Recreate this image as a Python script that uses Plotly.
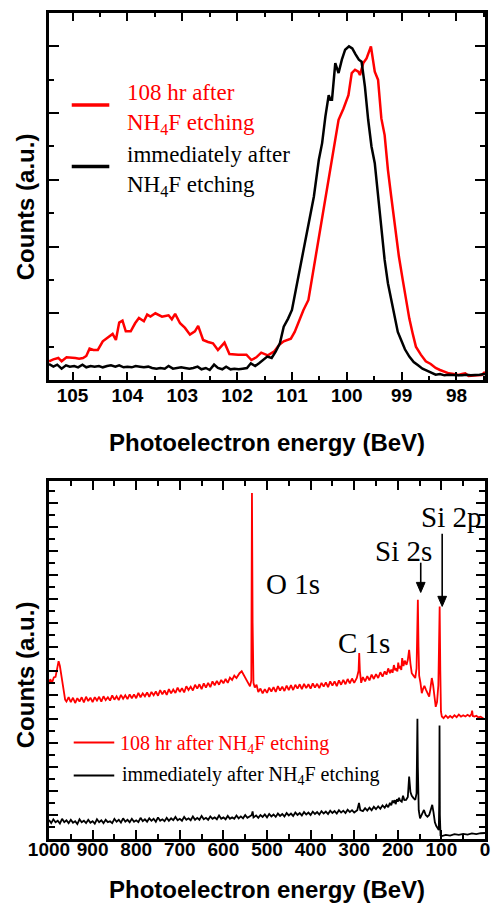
import plotly.graph_objects as go

# ---------------- Top panel: Si 2p high-resolution spectra ----------------
hr_energy_black = [105.43, 105.35, 105.28, 105.20, 105.12, 105.05, 104.97, 104.90, 104.82, 104.75,
                   104.67, 104.60, 104.52, 104.45, 104.37, 104.30, 104.22, 104.15, 104.07, 104.00,
                   103.92, 103.85, 103.77, 103.70, 103.62, 103.55, 103.47, 103.40, 103.32, 103.25,
                   103.17, 103.10, 103.02, 102.95, 102.87, 102.80, 102.72, 102.65, 102.57, 102.50,
                   102.42, 102.35, 102.27, 102.20, 102.12, 102.05, 101.97, 101.90, 101.82, 101.75,
                   101.67, 101.60, 101.52, 101.45, 101.37, 101.30, 101.22, 101.15, 101.07, 101.00,
                   100.93, 100.86, 100.80, 100.73, 100.66, 100.60, 100.51, 100.45, 100.39, 100.33,
                   100.30, 100.27, 100.21, 100.15, 100.09, 100.03, 99.96, 99.90, 99.84, 99.78,
                   99.73, 99.67, 99.61, 99.55, 99.49, 99.43, 99.37, 99.31, 99.25, 99.19,
                   99.13, 99.07, 99.00, 98.94, 98.86, 98.78, 98.70, 98.62, 98.54, 98.46,
                   98.38, 98.30, 98.22, 98.14, 98.06, 97.98, 97.90, 97.82, 97.74, 97.66,
                   97.58, 97.48]
hr_counts_black = [0.24, 0.20, 0.23, 0.17, 0.22, 0.20, 0.21, 0.19, 0.23, 0.19,
                   0.21, 0.20, 0.21, 0.19, 0.21, 0.22, 0.20, 0.22, 0.19, 0.20,
                   0.19, 0.21, 0.20, 0.19, 0.20, 0.18, 0.17, 0.18, 0.17, 0.21,
                   0.17, 0.18, 0.19, 0.18, 0.17, 0.18, 0.20, 0.16, 0.18, 0.15,
                   0.23, 0.18, 0.16, 0.20, 0.16, 0.17, 0.16, 0.17, 0.18, 0.25,
                   0.21, 0.25, 0.30, 0.35, 0.33, 0.42, 0.55, 0.80, 0.92, 1.05,
                   1.35, 1.65, 1.95, 2.25, 2.55, 2.75, 3.30, 3.55, 3.95, 4.27,
                   4.20, 4.20, 4.75, 4.60, 4.80, 4.95, 5.00, 4.97, 4.88, 4.80,
                   4.77, 4.40, 3.90, 3.50, 3.25, 2.75, 2.30, 1.80, 1.45, 1.20,
                   0.92, 0.72, 0.58, 0.46, 0.35, 0.27, 0.22, 0.17, 0.14, 0.11,
                   0.08, 0.09, 0.07, 0.08, 0.07, 0.07, 0.07, 0.08, 0.07, 0.07,
                   0.08, 0.09]

hr_energy_red = [105.43, 105.35, 105.26, 105.20, 105.11, 105.03, 104.95, 104.88, 104.81, 104.75,
                 104.69, 104.62, 104.54, 104.45, 104.36, 104.27, 104.21, 104.15, 104.09, 104.03,
                 103.94, 103.86, 103.79, 103.70, 103.64, 103.58, 103.49, 103.43, 103.37, 103.31,
                 103.25, 103.19, 103.13, 103.04, 102.95, 102.86, 102.77, 102.71, 102.62, 102.53,
                 102.44, 102.35, 102.29, 102.23, 102.14, 102.06, 101.98, 101.90, 101.83, 101.74,
                 101.65, 101.56, 101.49, 101.44, 101.32, 101.23, 101.15, 101.08, 101.02, 100.95,
                 100.91, 100.85, 100.79, 100.70, 100.62, 100.55, 100.47, 100.39, 100.33, 100.24,
                 100.15, 100.06, 99.97, 99.91, 99.85, 99.79, 99.76, 99.70, 99.64, 99.56,
                 99.49, 99.43, 99.37, 99.31, 99.25, 99.19, 99.12, 99.05, 98.98, 98.92,
                 98.86, 98.80, 98.74, 98.65, 98.56, 98.47, 98.38, 98.30, 98.22, 98.14,
                 98.05, 97.96, 97.90, 97.84, 97.78, 97.70, 97.62, 97.54, 97.48]
hr_counts_red = [0.28, 0.31, 0.33, 0.28, 0.34, 0.34, 0.33, 0.32, 0.33, 0.36,
                 0.47, 0.45, 0.45, 0.58, 0.64, 0.69, 0.60, 0.86, 0.89, 0.73,
                 0.73, 0.85, 0.93, 0.88, 0.98, 0.95, 1.00, 0.98, 0.95, 0.96,
                 0.97, 0.91, 0.99, 0.85, 0.78, 0.68, 0.73, 0.81, 0.60, 0.57,
                 0.55, 0.45, 0.50, 0.56, 0.39, 0.38, 0.38, 0.38, 0.38, 0.30,
                 0.34, 0.41, 0.38, 0.37, 0.43, 0.53, 0.58, 0.60, 0.62, 0.72,
                 0.80, 0.93, 1.05, 1.20, 1.60, 1.95, 2.30, 2.70, 3.05, 3.45,
                 3.90, 4.07, 4.27, 4.60, 4.65, 4.62, 4.57, 4.75, 4.82, 5.00,
                 4.62, 4.50, 3.92, 3.67, 3.15, 2.75, 2.30, 1.85, 1.50, 1.20,
                 0.92, 0.70, 0.50, 0.38, 0.28, 0.24, 0.18, 0.15, 0.12, 0.10,
                 0.09, 0.075, 0.09, 0.10, 0.06, 0.07, 0.07, 0.075, 0.12]

# ---------------- Bottom panel: survey spectra (energy, counts) ----------------
survey_108hr = [
    (1000, 6.45), (997, 6.65), (993, 6.5), (989, 6.72), (985, 6.75), (981, 7.1), (978, 7.4),
    (975, 7.2), (972, 6.85), (969, 6.4), (966, 6.0), (963, 5.8), (960, 5.72), (955, 5.9),
    (950, 5.7), (945, 5.88), (940, 5.66), (935, 5.86), (930, 5.72), (925, 5.9), (920, 5.68),
    (915, 5.92), (910, 5.74), (905, 5.88), (900, 5.7), (895, 5.9), (890, 5.76), (885, 5.92),
    (880, 5.72), (875, 5.94), (870, 5.78), (865, 5.9), (860, 5.76), (855, 5.98), (850, 5.8),
    (845, 5.94), (840, 5.78), (835, 6.0), (830, 5.84), (825, 5.98), (820, 5.82), (815, 6.02),
    (810, 5.86), (805, 6.02), (800, 5.86), (795, 6.08), (790, 5.9), (785, 6.06), (780, 5.94),
    (775, 6.1), (770, 5.92), (765, 6.12), (760, 5.98), (755, 6.14), (750, 5.96), (745, 6.2),
    (740, 6.02), (735, 6.18), (730, 6.0), (725, 6.24), (720, 6.06), (715, 6.22), (710, 6.08),
    (705, 6.3), (700, 6.12), (695, 6.28), (690, 6.1), (685, 6.36), (680, 6.2), (675, 6.34),
    (670, 6.18), (665, 6.42), (660, 6.26), (655, 6.44), (650, 6.24), (645, 6.48), (640, 6.3),
    (635, 6.5), (630, 6.32), (625, 6.56), (620, 6.4), (615, 6.58), (610, 6.42), (605, 6.62),
    (600, 6.48), (595, 6.66), (590, 6.5), (585, 6.72), (580, 6.62), (575, 6.8), (570, 6.7),
    (563, 6.9), (558, 6.98), (553, 6.8), (548, 6.65), (543, 6.45), (539, 6.35), (536, 6.6),
    (534.5, 14.4), (533, 9.0), (531, 6.5), (528, 6.3), (524, 6.42), (520, 6.12), (515, 6.26),
    (510, 6.06), (505, 6.24), (500, 6.08), (495, 6.3), (490, 6.14), (485, 6.32), (480, 6.12),
    (475, 6.36), (470, 6.18), (465, 6.34), (460, 6.16), (455, 6.38), (450, 6.2), (445, 6.4),
    (440, 6.2), (435, 6.42), (430, 6.26), (425, 6.44), (420, 6.24), (415, 6.46), (410, 6.28),
    (405, 6.44), (400, 6.26), (395, 6.48), (390, 6.3), (385, 6.46), (380, 6.28), (375, 6.5),
    (370, 6.34), (365, 6.52), (360, 6.32), (355, 6.56), (350, 6.38), (345, 6.56), (340, 6.36),
    (335, 6.6), (330, 6.42), (325, 6.62), (320, 6.44), (315, 6.66), (310, 6.48), (305, 6.68),
    (300, 6.5), (294, 6.7), (290, 7.0), (288.5, 7.74), (287, 7.0), (284, 6.5), (280, 6.74),
    (275, 6.56), (270, 6.78), (265, 6.6), (260, 6.84), (255, 6.66), (250, 6.86), (245, 6.7),
    (240, 6.94), (235, 6.76), (230, 6.98), (226, 6.84), (222, 7.1), (218, 6.9), (215, 7.05),
    (212, 6.92), (209, 7.24), (206, 7.02), (204, 7.1), (201, 6.98), (199, 7.34), (197, 7.1),
    (195, 7.2), (192, 7.04), (190, 7.53), (187, 7.2), (184, 7.42), (180, 7.25), (177, 7.46),
    (174, 7.875), (171, 7.3), (168, 6.9), (164, 6.8), (160, 6.7), (157, 7.1), (155.5, 8.5),
    (154, 9.96), (152.5, 8.0), (151, 6.8), (148, 6.5), (145, 6.07), (142, 6.25), (139, 6.37),
    (135, 6.2), (131, 6.05), (128, 5.93), (125, 6.3), (122, 6.7), (119, 6.4), (116, 5.8),
    (113, 5.5), (110, 5.7), (107, 6.4), (105.5, 8.0), (104, 9.68), (102.5, 7.0), (101, 5.3),
    (99, 5.1), (95, 5.03), (90, 5.14), (85, 5.04), (80, 5.12), (75, 5.05), (70, 5.15),
    (65, 5.07), (60, 5.18), (55, 5.09), (50, 5.15), (45, 5.1), (40, 5.17), (35, 5.11),
    (31, 5.2), (29.5, 5.34), (28, 5.12), (24, 5.1), (20, 5.13), (15, 5.06), (10, 5.09),
    (6, 5.04), (3, 5.0), (1, 4.98)]

survey_immediate = [
    (1000, 0.79), (995, 0.66), (990, 0.82), (985, 0.7), (980, 0.76), (975, 0.64), (970, 0.84),
    (965, 0.7), (960, 0.78), (955, 0.66), (950, 0.8), (945, 0.68), (940, 0.74), (935, 0.62),
    (930, 0.82), (925, 0.7), (920, 0.76), (915, 0.66), (910, 0.8), (905, 0.68), (900, 0.74),
    (895, 0.64), (890, 0.82), (885, 0.7), (880, 0.78), (875, 0.66), (870, 0.8), (865, 0.7),
    (860, 0.74), (855, 0.66), (850, 0.84), (845, 0.72), (840, 0.8), (835, 0.68), (830, 0.86),
    (825, 0.72), (820, 0.8), (815, 0.7), (810, 0.84), (805, 0.72), (800, 0.78), (795, 0.7),
    (790, 0.88), (785, 0.74), (780, 0.82), (775, 0.72), (770, 0.86), (765, 0.76), (760, 0.84),
    (755, 0.72), (750, 0.9), (745, 0.76), (740, 0.82), (735, 0.74), (730, 0.88), (725, 0.76),
    (720, 0.86), (715, 0.78), (710, 0.92), (705, 0.78), (700, 0.84), (695, 0.76), (690, 0.92),
    (685, 0.8), (680, 0.86), (675, 0.78), (670, 0.94), (665, 0.8), (660, 0.88), (655, 0.8),
    (650, 0.96), (645, 0.82), (640, 0.88), (635, 0.8), (630, 0.94), (625, 0.84), (620, 0.9),
    (615, 0.82), (610, 0.98), (605, 0.84), (600, 0.9), (595, 0.82), (590, 0.96), (585, 0.84),
    (580, 0.9), (575, 0.84), (570, 0.98), (565, 0.86), (560, 0.94), (555, 0.86), (550, 1.0),
    (545, 0.88), (540, 0.94), (535, 1.0), (533, 1.15), (531, 0.9), (525, 0.98), (520, 0.88),
    (515, 1.0), (510, 0.92), (505, 1.02), (500, 0.9), (495, 1.04), (490, 0.94), (485, 1.02),
    (480, 0.92), (475, 1.06), (470, 0.96), (465, 1.04), (460, 0.94), (455, 1.08), (450, 0.98),
    (445, 1.06), (440, 0.96), (435, 1.1), (430, 1.0), (425, 1.08), (420, 0.98), (415, 1.12),
    (410, 1.02), (405, 1.1), (400, 1.0), (395, 1.14), (390, 1.04), (385, 1.12), (380, 1.02),
    (375, 1.16), (370, 1.06), (365, 1.14), (360, 1.04), (355, 1.18), (350, 1.08), (345, 1.16),
    (340, 1.06), (335, 1.2), (330, 1.1), (325, 1.18), (320, 1.08), (315, 1.22), (310, 1.12),
    (305, 1.2), (300, 1.1), (293, 1.2), (289, 1.5), (286, 1.2), (280, 1.16), (275, 1.28),
    (270, 1.18), (265, 1.3), (260, 1.2), (255, 1.34), (250, 1.24), (245, 1.36), (240, 1.26),
    (235, 1.4), (230, 1.3), (226, 1.42), (222, 1.32), (218, 1.5), (215, 1.4), (212, 1.6),
    (210, 1.5), (207, 1.62), (205, 1.45), (202, 1.66), (200, 1.55), (197, 1.72), (195, 1.6),
    (191, 1.55), (188, 1.8), (185, 1.62), (181, 1.63), (177, 1.75), (174, 2.6), (171, 1.95),
    (168, 1.8), (164, 1.7), (160, 1.63), (157, 1.9), (156, 3.0), (155, 5.0), (154, 3.0),
    (152, 1.2), (149, 0.86), (145, 1.0), (140, 1.21), (136, 1.0), (132, 0.93), (128, 1.0),
    (124, 1.3), (121, 1.42), (118, 1.1), (115, 0.7), (112, 0.55), (108, 0.4), (106, 0.375),
    (105, 1.5), (104.3, 4.72), (103.5, 1.0), (102, 0.15), (99, 0.125), (90, 0.17), (80, 0.14),
    (70, 0.2), (60, 0.17), (50, 0.21), (40, 0.18), (30, 0.23), (20, 0.2), (10, 0.24), (0, 0.25)]

top_xticks = [105, 104, 103, 102, 101, 100, 99, 98]
bottom_xticks = [1000, 900, 800, 700, 600, 500, 400, 300, 200, 100, 0]

# peak labels: (text, energy, counts)
peak_labels = [("O 1s", 441, 10.6), ("C 1s", 278, 8.15), ("Si 2s", 187, 12.0), ("Si 2p", 79, 13.4)]
# arrows: (energy, tip counts, tail counts)
peak_arrows = [(147.4, 10.26, 11.5), (98.2, 9.68, 12.7)]

RED = "#ff0000"
BLACK = "#000000"
SERIF = "Liberation Serif"
SANS = "Liberation Sans"

fig = go.Figure()

fig.add_trace(go.Scatter(x=hr_energy_red, y=hr_counts_red, mode="lines",
                         line=dict(color=RED, width=2.5), xaxis="x", yaxis="y", showlegend=False))
fig.add_trace(go.Scatter(x=hr_energy_black, y=hr_counts_black, mode="lines",
                         line=dict(color=BLACK, width=2.5), xaxis="x", yaxis="y", showlegend=False))

fig.add_trace(go.Scatter(x=[p[0] for p in survey_108hr], y=[p[1] for p in survey_108hr], mode="lines",
                         line=dict(color=RED, width=1.8), xaxis="x2", yaxis="y2", showlegend=False))
fig.add_trace(go.Scatter(x=[p[0] for p in survey_immediate], y=[p[1] for p in survey_immediate],
                         mode="lines", line=dict(color=BLACK, width=1.8), xaxis="x2", yaxis="y2",
                         showlegend=False))

W, H = 494, 903
ML, MR, MT, MB = 49, 4, 13, 64
PW, PH = W - ML - MR, H - MT - MB


def px_x(x):
    return (x - ML) / PW


def px_y(y):
    return (H - MB - y) / PH


top_dom = [px_y(380), 1.0]
bot_dom = [0.0, px_y(481)]

tickfont = dict(family=SANS, size=19, color=BLACK, weight="bold")
axis_common = dict(showline=True, linewidth=3, linecolor=BLACK, mirror="ticks", ticks="inside",
                   tickcolor=BLACK, tickwidth=2, showgrid=False, zeroline=False)

fig.update_layout(
    width=W, height=H, margin=dict(l=ML, r=MR, t=MT, b=MB),
    paper_bgcolor="white", plot_bgcolor="white",
    xaxis=dict(domain=[0, 1], anchor="y", range=[105.43, 97.48], tickmode="array",
               tickvals=top_xticks, ticktext=[str(t) for t in top_xticks], ticklen=8,
               tickfont=tickfont, ticklabelstandoff=-4,
               minor=dict(dtick=0.5, tick0=98, ticks="inside", ticklen=4, tickwidth=2, tickcolor=BLACK),
               **axis_common),
    yaxis=dict(domain=top_dom, anchor="x", range=[0, 5.5], dtick=1, tick0=0, ticklen=10,
               showticklabels=False,
               minor=dict(dtick=0.5, ticks="inside", ticklen=5, tickwidth=2, tickcolor=BLACK),
               **axis_common),
    xaxis2=dict(domain=[0, 1], anchor="y2", range=[1000, 0], tickmode="array",
                tickvals=bottom_xticks, ticktext=[str(t) for t in bottom_xticks], ticklen=9,
                tickfont=tickfont, ticklabelstandoff=-9,
                minor=dict(dtick=50, tick0=0, ticks="inside", ticklen=5, tickwidth=2, tickcolor=BLACK),
                **axis_common),
    yaxis2=dict(domain=bot_dom, anchor="x2", range=[0, 14.9], dtick=1, tick0=0, ticklen=9,
                showticklabels=False,
                minor=dict(dtick=0.5, ticks="inside", ticklen=6, tickwidth=2, tickcolor=BLACK),
                **axis_common),
)

annotations = []
title_font = dict(family=SANS, size=24, color=BLACK, weight="bold")
annotations.append(dict(text="Photoelectron energy (BeV)", xref="paper", yref="paper", x=0.5,
                        y=px_y(442), showarrow=False, font=title_font, xanchor="center", yanchor="middle"))
annotations.append(dict(text="Photoelectron energy (BeV)", xref="paper", yref="paper", x=0.5,
                        y=px_y(889), showarrow=False, font=title_font, xanchor="center", yanchor="middle"))
annotations.append(dict(text="Counts (a.u.)", xref="paper", yref="paper", x=px_x(25), y=px_y(207),
                        showarrow=False, font=title_font, textangle=-90, xanchor="center", yanchor="middle"))
annotations.append(dict(text="Counts (a.u.)", xref="paper", yref="paper", x=px_x(25), y=px_y(675),
                        showarrow=False, font=title_font, textangle=-90, xanchor="center", yanchor="middle"))

# top legend
annotations.append(dict(text="108 hr after<br>NH<sub>4</sub>F etching", xref="paper", yref="paper",
                        x=px_x(126), y=px_y(109), showarrow=False, align="left",
                        font=dict(family=SERIF, size=23, color=RED), xanchor="left", yanchor="middle"))
annotations.append(dict(text="immediately after<br>NH<sub>4</sub>F etching", xref="paper", yref="paper",
                        x=px_x(126), y=px_y(171), showarrow=False, align="left",
                        font=dict(family=SERIF, size=23, color=BLACK), xanchor="left", yanchor="middle"))
# bottom legend
annotations.append(dict(text="108 hr after NH<sub>4</sub>F etching", xref="paper", yref="paper",
                        x=px_x(119), y=px_y(744), showarrow=False, align="left",
                        font=dict(family=SERIF, size=20, color=RED), xanchor="left", yanchor="middle"))
annotations.append(dict(text="immediately after NH<sub>4</sub>F etching", xref="paper", yref="paper",
                        x=px_x(121), y=px_y(775), showarrow=False, align="left",
                        font=dict(family=SERIF, size=20, color=BLACK), xanchor="left", yanchor="middle"))

for txt, ex, cy in peak_labels:
    annotations.append(dict(text=txt, xref="x2", yref="y2", x=ex, y=cy, showarrow=False,
                            font=dict(family=SERIF, size=29, color=BLACK),
                            xanchor="center", yanchor="middle"))

fig.update_layout(annotations=annotations)

shapes = [
    dict(type="line", xref="paper", yref="paper", x0=px_x(72), x1=px_x(110), y0=px_y(105), y1=px_y(105),
         line=dict(color=RED, width=3.5)),
    dict(type="line", xref="paper", yref="paper", x0=px_x(72), x1=px_x(110), y0=px_y(166.5),
         y1=px_y(166.5), line=dict(color=BLACK, width=3.5)),
    dict(type="line", xref="paper", yref="paper", x0=px_x(74), x1=px_x(115), y0=px_y(742.5),
         y1=px_y(742.5), line=dict(color=RED, width=2)),
    dict(type="line", xref="paper", yref="paper", x0=px_x(74), x1=px_x(115), y0=px_y(775.5),
         y1=px_y(775.5), line=dict(color=BLACK, width=2)),
]
# arrows as line + filled triangular head
HEAD_H = 0.42   # head length in counts units (~10 px)
HEAD_W = 10.0   # head half-width in eV (~4.5 px)
for ex, tip, tail in peak_arrows:
    shapes.append(dict(type="line", xref="x2", yref="y2", x0=ex, x1=ex, y0=tail, y1=tip + HEAD_H * 0.5,
                       line=dict(color=BLACK, width=1.6)))
    shapes.append(dict(type="path", xref="x2", yref="y2",
                       path=f"M {ex} {tip} L {ex - HEAD_W} {tip + HEAD_H} L {ex + HEAD_W} {tip + HEAD_H} Z",
                       fillcolor=BLACK, line=dict(color=BLACK, width=1)))
fig.update_layout(shapes=shapes)

fig.write_html("out.html")
